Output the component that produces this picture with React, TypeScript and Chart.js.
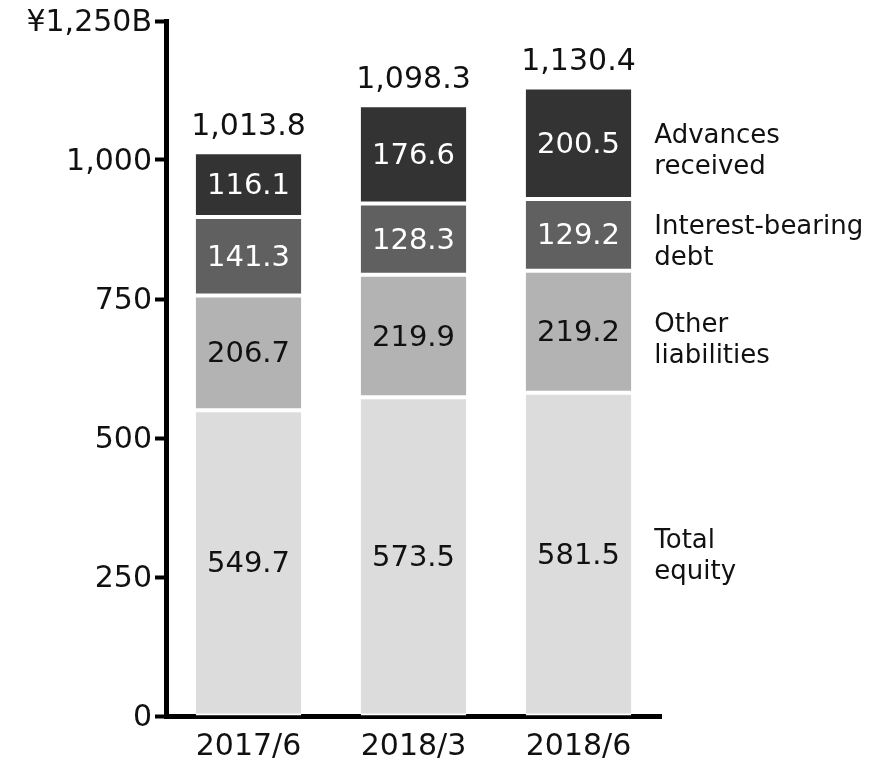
import React, { useEffect, useRef } from "react";
import { Chart, registerables } from "chart.js";

Chart.register(...registerables);

const categories = ["2017/6", "2018/3", "2018/6"];
const totalEquity = [549.7, 573.5, 581.5];
const otherLiabilities = [206.7, 219.9, 219.2];
const interestBearingDebt = [141.3, 128.3, 129.2];
const advancesReceived = [116.1, 176.6, 200.5];
const totals = [1013.8, 1098.3, 1130.4];
const seriesNames = [["Total", "equity"], ["Other", "liabilities"], ["Interest-bearing", "debt"], ["Advances", "received"]];
const yTicks = [0, 250, 500, 750, 1000, 1250];

const FONT = "'DejaVu Sans', Verdana, sans-serif";
const NAME_OFFSETS = [3, 9, 8, 9];

const fmt = (v: number, d = 1) =>
  v.toLocaleString("en-US", { minimumFractionDigits: d, maximumFractionDigits: d });

const labelPlugin = {
  id: "labels",
  afterDraw(chart: any) {
    const ctx = chart.ctx;
    ctx.save();
    ctx.textBaseline = "middle";
    ctx.textAlign = "center";
    chart.data.datasets.forEach((ds: any, di: number) => {
      const meta = chart.getDatasetMeta(di);
      meta.data.forEach((bar: any, i: number) => {
        const { x, y, base } = bar.getProps(["x", "y", "base"], true);
        ctx.font = `29px ${FONT}`;
        ctx.fillStyle = di >= 2 ? "#ffffff" : "#111111";
        ctx.fillText(fmt(ds.data[i]), x, (y + base) / 2 + 2);
      });
    });
    const topMeta = chart.getDatasetMeta(chart.data.datasets.length - 1);
    topMeta.data.forEach((bar: any, i: number) => {
      const { x, y } = bar.getProps(["x", "y"], true);
      ctx.font = `30px ${FONT}`;
      ctx.fillStyle = "#111111";
      ctx.fillText(fmt(totals[i]), x, y - 25);
    });
    ctx.textAlign = "left";
    const last = categories.length - 1;
    chart.data.datasets.forEach((ds: any, di: number) => {
      const bar = chart.getDatasetMeta(di).data[last];
      const { x, y, base, width } = bar.getProps(["x", "y", "base", "width"], true);
      const cy = (y + base) / 2 + NAME_OFFSETS[di];
      const lines = seriesNames[di];
      ctx.font = `26px ${FONT}`;
      ctx.fillStyle = "#111111";
      const lh = 31;
      lines.forEach((t: string, li: number) => {
        ctx.fillText(t, x + width / 2 + 23, cy + (li - (lines.length - 1) / 2) * lh);
      });
    });
    ctx.restore();
  },
};

export default function App() {
  const ref = useRef<HTMLCanvasElement>(null);
  useEffect(() => {
    if (!ref.current) return;
    const border = { top: 2, bottom: 2, left: 0, right: 0 };
    const mk = (data: number[], color: string) => ({
      data,
      backgroundColor: color,
      borderColor: "#ffffff",
      borderWidth: border,
      borderSkipped: false,
    });
    const chart = new Chart(ref.current, {
      type: "bar",
      data: {
        labels: categories,
        datasets: [
          mk(totalEquity, "#dcdcdc"),
          mk(otherLiabilities, "#b3b3b3"),
          mk(interestBearingDebt, "#606060"),
          mk(advancesReceived, "#333333"),
        ] as any,
      },
      options: {
        responsive: false,
        animation: false,
        events: [],
        layout: { padding: { left: 0, right: 208, top: 21, bottom: 0 } },
        datasets: { bar: { categoryPercentage: 0.8, barPercentage: 0.8 } },
        plugins: { legend: { display: false }, tooltip: { enabled: false }, title: { display: false } },
        scales: {
          x: {
            stacked: true,
            z: 1,
            grid: { display: true, drawOnChartArea: false, drawTicks: false },
            border: { display: true, color: "#000000", width: 5 },
            ticks: { color: "#111111", font: { family: FONT, size: 30 }, padding: 13 },
            afterFit: (s: any) => { s.height = 48; },
          },
          y: {
            stacked: true,
            min: 0,
            max: 1250,
            z: 1,
            afterBuildTicks: (s: any) => { s.ticks = yTicks.map((v) => ({ value: v })); },
            grid: { display: true, drawOnChartArea: false, drawTicks: true, tickLength: 11, tickWidth: 4, tickColor: "#000000" },
            border: { display: true, color: "#000000", width: 5 },
            ticks: {
              color: "#111111",
              font: { family: FONT, size: 30 },
              padding: 3,
              labelOffset: 2,
              callback: (v: any) => (v === 1250 ? "¥1,250B" : Number(v).toLocaleString("en-US")),
            },
            afterFit: (s: any) => { s.width = 166; },
          },
        },
      },
      plugins: [labelPlugin],
    });
    return () => chart.destroy();
  }, []);
  return (
    <div style={{ position: "absolute", left: 0, top: 0, width: 869, height: 764, background: "#fff" }}>
      <canvas ref={ref} width={869} height={764} style={{ display: "block", width: 869, height: 764 }} />
    </div>
  );
}
